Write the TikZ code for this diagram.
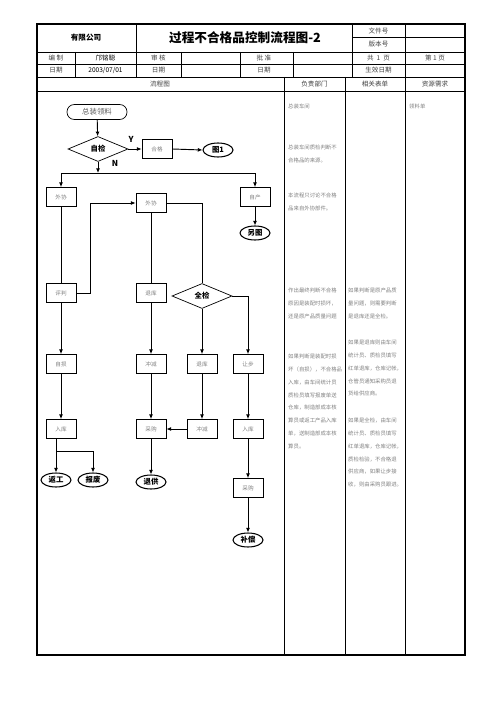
\documentclass[tikz,border=0pt]{standalone}
\usepackage{fontspec}
\setmainfont{Noto Sans CJK SC}
\usetikzlibrary{shapes.geometric,arrows.meta}
\newcommand{\fsz}[1]{\fontsize{#1}{#1}\selectfont}
\tikzset{
  cell/.style={inner sep=0pt, font=\fsz{5.6}, text=black!75},
  start/.style={draw, rectangle, rounded corners=0.22cm, line width=0.6pt, minimum width=1.8cm, minimum height=0.45cm, inner sep=0pt, font=\fsz{6.3}, text=black!65},
  box/.style={draw, line width=0.6pt, minimum width=0.9cm, minimum height=0.57cm, inner sep=0pt, font=\fsz{4.8}, text=black!50},
  term/.style={draw, ellipse, line width=0.9pt, minimum width=0.9cm, minimum height=0.42cm, inner sep=0pt, font=\bfseries\fsz{6.3}},
  judge/.style={draw, diamond, line width=0.6pt, minimum width=1.8cm, minimum height=0.75cm, inner sep=0pt, font=\bfseries\fsz{6.3}},
  yn/.style={inner sep=0pt, font=\bfseries\fsz{7}},
  flow/.style={line width=0.8pt, -{Latex[length=4pt,width=3.4pt]}},
  link/.style={line width=0.8pt},
  note/.style={inner sep=0pt, anchor=north west, align=left, font=\fontsize{4.6}{10.9}\selectfont, text=black!50}
}
\begin{document}
\begin{tikzpicture}[x=0.03cm,y=-0.03cm]
\useasboundingbox (0,0) rectangle (496,702);

% Drawing table frame
\draw [line width=0.9pt] (37,24) rectangle (465,655);
\draw [line width=0.5pt] (352,37.5) -- (465,37.5);
\draw [line width=0.5pt] (37,52) -- (465,52);
\draw [line width=0.5pt] (37,64) -- (465,64);
\draw [line width=0.5pt] (37,77) -- (465,77);
\draw [line width=0.8pt] (37,91) -- (465,91);

% Drawing table columns
\draw [line width=0.5pt] (136,24) -- (136,77);
\draw [line width=0.5pt] (352,24) -- (352,77);
\draw [line width=0.5pt] (405,24) -- (405,655);
\draw [line width=0.5pt] (75,52) -- (75,77);
\draw [line width=0.5pt] (181,52) -- (181,77);
\draw [line width=0.5pt] (240,52) -- (240,77);
\draw [line width=0.5pt] (293,52) -- (293,77);
\draw [line width=0.5pt] (284,77) -- (284,655);
\draw [line width=0.5pt] (345,77) -- (345,655);

% Writing head cells
\node [cell, font=\bfseries\fsz{6.5}, text=black] (company) at (86,38) {有限公司};
\node [cell, font=\bfseries\fsz{10.8}, text=black] (title) at (245,38) {过程不合格品控制流程图-2};
\node [cell] (docno) at (378.5,31) {文件号};
\node [cell] (verno) at (378.5,44.5) {版本号};
\node [cell] (bz) at (56,58) {编\ 制};
\node [cell, text=black] (bzname) at (105.5,58) {邝铭聪};
\node [cell] (sh) at (158.5,58) {审\ 核};
\node [cell] (pz) at (264,58) {批\ 准};
\node [cell] (pages) at (378.5,58) {共\ \ 1\ \ 页};
\node [cell] (page) at (435,58) {第\ 1\ 页};
\node [cell] (rq1) at (56,70.5) {日期};
\node [cell, text=black] (rqval) at (105.5,70.5) {2003/07/01};
\node [cell] (rq2) at (158.5,70.5) {日期};
\node [cell] (rq3) at (264,70.5) {日期};
\node [cell] (sxrq) at (378.5,70.5) {生效日期};
\node [cell] (lct) at (160,84) {流程图};
\node [cell] (fzbm) at (314.5,84) {负责部门};
\node [cell] (xgbd) at (375,84) {相关表单};
\node [cell] (zyxq) at (435,84) {资源需求};

% Drawing flow nodes
\node [start] (zzll) at (97,112) {总装领料};
\node [judge] (zj) at (98,149) {自检};
\node [box] (hg) at (157,149) {合格};
\node [term] (t1) at (218,150) {图1};
\node [box] (wx1) at (61,197) {外协};
\node [box] (wx2) at (151,203) {外协};
\node [box] (zc) at (255,197) {自产};
\node [term] (lt) at (255,233) {另图};
\node [box] (pp) at (61,293) {评判};
\node [box] (tk1) at (151,293) {退库};
\node [judge] (qj) at (202,296) {全检};
\node [box] (zs) at (61,364) {自损};
\node [box] (cj1) at (151,364) {冲减};
\node [box] (tk2) at (202,364) {退库};
\node [box] (rb) at (248,364) {让步};
\node [box] (rk1) at (61,429) {入库};
\node [box] (cg1) at (151,429) {采购};
\node [box] (cj2) at (202,429) {冲减};
\node [box] (rk2) at (248,429) {入库};
\node [term] (fg) at (56,480) {返工};
\node [term] (bf) at (93,480) {报废};
\node [term] (tg) at (151,482) {退供};
\node [box] (cg2) at (248,488) {采购};
\node [term] (bc) at (248,540) {补偿};

% Marking Y and N
\node [yn] (ylab) at (131,139) {Y};
\node [yn] (nlab) at (115,163) {N};

% Drawing connectors
\coordinate (nsp) at (98,173);
\coordinate (lpa) at (90,293);
\coordinate (lpb) at (90,203);
\coordinate (rkb) at (56,451);
\draw [flow] (zzll) -- (zj);
\draw [flow] (zj.east) -- (hg.west);
\draw [flow] (hg.east) -- (t1.west);
\draw [flow] (zj.south) -- (nsp);
\draw [link] (nsp -| wx1) -- (nsp -| zc);
\draw [flow] (nsp -| wx1) -- (wx1.north);
\draw [flow] (nsp -| zc) -- (zc.north);
\draw [flow] (zc) -- (lt);
\draw [link] (wx1) -- (pp);
\draw [flow] (pp.east) -- (lpa) -- (lpb) -- (wx2.west);
\draw [link] (wx2) -- (tk1);
\draw [link] (wx2.east) -| (qj.north);
\draw [flow] (pp) -- (zs);
\draw [flow] (tk1) -- (cj1);
\draw [flow] (qj) -- (tk2);
\draw [flow] (qj.east) -| (rb.north);
\draw [flow] (zs) -- (rk1);
\draw [flow] (cj1) -- (cg1);
\draw [flow] (tk2) -- (cj2);
\draw [flow] (rb) -- (rk2);
\draw [flow] (cj2.west) -- (cg1.east);
\draw [flow] (rk1.south -| fg) -- (fg);
\draw [flow] (rkb) -| (bf.north);
\draw [flow] (cg1) -- (tg);
\draw [flow] (rk2) -- (cg2);
\draw [flow] (cg2) -- (bc);

% Writing column notes
\node [note] (n1) at (288,104) {总装车间};
\node [note] (n2) at (288,145) {总装车间质检判断不\\合格品的来源。};
\node [note] (n3) at (288,193) {本流程只讨论不合格\\品来自外协部件。};
\node [note] (n4) at (288,288) {作出最终判断不合格\\原因是装配时损坏，\\还是原产品质量问题};
\node [note] (n5) at (288,354) {如果判断是装配时损\\坏（自损），不合格品\\入库，由车间统计员\\质检员填写报废单送\\仓库，制造部成本核\\算员或返工产品入库\\单，送制造部成本核\\算员。};
\node [note] (n6) at (348,288) {如果判断是原产品质\\量问题，则需要判断\\是退库还是全检。};
\node [note] (n7) at (348,340) {如果是退库则由车间\\统计员、质检员填写\\红单退库，仓库记帐，\\仓管员通知采购员退\\货给供应商。};
\node [note] (n8) at (348,418) {如果是全检，由车间\\统计员、质检员填写\\红单退库，仓库记帐，\\质检检验，不合格退\\供应商，如果让步接\\收，则由采购员跟进。};
\node [note] (n9) at (409,104) {领料单};
\end{tikzpicture}
\end{document}
